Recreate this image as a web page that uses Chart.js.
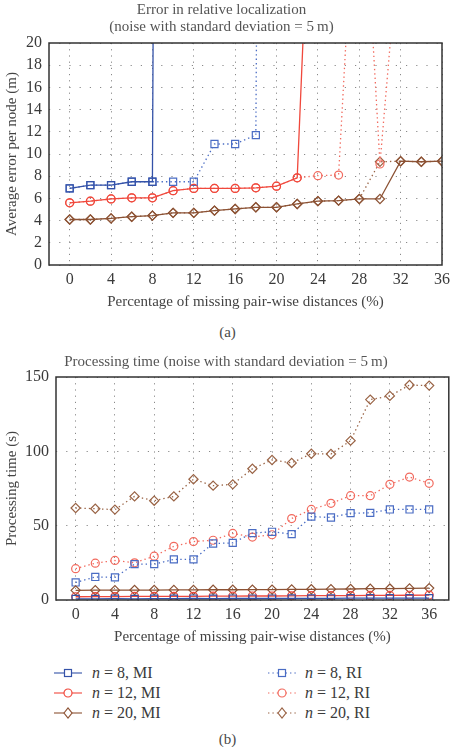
<!DOCTYPE html>
<html>
<head>
<meta charset="utf-8">
<script src="https://cdn.jsdelivr.net/npm/chart.js@4"></script>
<style>
  body { margin: 0; background: #fff; width: 455px; height: 747px; position: relative; overflow: hidden;
         font-family: "Liberation Serif", "DejaVu Serif", serif; color: #3a3a3a; }
  .box { position: absolute; left: 0; width: 455px; }
  .cap { position: absolute; left: 0; width: 455px; text-align: center; font-size: 15px; color: #4a4a4a; }
  #legend { position: absolute; left: 0; top: 663px; width: 455px; height: 64px; font-size: 16px; color: #3a3a3a; }
  .item { position: absolute; height: 20px; line-height: 20px; white-space: nowrap; }
  .item svg { position: absolute; left: 0; top: 4px; }
  .item span { position: absolute; }
</style>
</head>
<body>
<div class="box" style="top:0;height:315px"><canvas id="errChart"></canvas></div>
<div class="cap" style="top:324px">(a)</div>
<div class="box" style="top:340px;height:310px"><canvas id="timeChart"></canvas></div>
<div id="legend"></div>
<div class="cap" style="top:731px">(b)</div>
<script>
// x values: percentage of missing pair-wise distances
const missingPct = [0, 2, 4, 6, 8, 10, 12, 14, 16, 18, 20, 22, 24, 26, 28, 30, 32, 34, 36];
const xTickLabels = [0, 4, 8, 12, 16, 20, 24, 28, 32, 36];

const seriesLabels = ["n = 8, MI", "n = 12, MI", "n = 20, MI", "n = 8, RI", "n = 12, RI", "n = 20, RI"];

// (a) average error per node (m); big values run off the top of the plot
const err8MI  = [6.9, 7.2, 7.2, 7.5, 7.5, 400, null, null, null, null, null, null, null, null, null, null, null, null, null];
const err12MI = [5.6, 5.75, 5.95, 6.05, 6.05, 6.7, 6.9, 6.9, 6.9, 6.95, 7.1, 7.85, 52, null, null, null, null, null, null];
const err20MI = [4.1, 4.1, 4.2, 4.35, 4.45, 4.7, 4.7, 4.9, 5.05, 5.2, 5.2, 5.5, 5.75, 5.8, 5.95, 5.95, 9.35, 9.3, 9.35];
const err8RI  = [6.9, 7.2, 7.2, 7.5, 7.5, 7.5, 7.5, 10.9, 10.9, 11.7, 300, null, null, null, null, null, null, null, null];
const err12RI = [5.6, 5.75, 5.95, 6.05, 6.05, 6.7, 6.9, 6.9, 6.9, 6.95, 7.1, 7.85, 8.05, 8.1, 42, 9.1, 31, null, null];
const err20RI = [4.1, 4.1, 4.2, 4.35, 4.45, 4.7, 4.7, 4.9, 5.05, 5.2, 5.2, 5.5, 5.75, 5.8, 5.95, 9.3, 9.35, 9.3, 9.35];
const errTicks = [0, 20];

// (b) processing time (s)
const time8MI  = [0.8, 0.8, 0.9, 0.8, 0.9, 0.9, 1.0, 0.9, 1.0, 1.0, 1.0, 1.1, 1.1, 1.1, 1.2, 1.2, 1.2, 1.3, 1.3];
const time12MI = [2.2, 2.3, 2.3, 2.4, 2.4, 2.5, 2.5, 2.6, 2.6, 2.7, 2.7, 2.8, 2.9, 2.9, 3.0, 3.1, 3.1, 3.2, 3.3];
const time20MI = [6.5, 6.6, 6.6, 6.7, 6.7, 6.8, 6.8, 6.9, 6.9, 7.0, 7.0, 7.1, 7.2, 7.3, 7.4, 7.6, 7.7, 7.8, 8.0];
const time8RI  = [11.8, 15.5, 15.2, 24.1, 24.1, 27.3, 27.3, 38, 38.4, 45, 45.9, 44.3, 56.1, 55.5, 58.4, 58.6, 60.9, 60.9, 60.9];
const time12RI = [21.1, 24.8, 26.6, 25, 29.5, 36.1, 39.3, 40.2, 44.8, 42.3, 43.9, 54.8, 60.9, 65, 70.2, 70.2, 77.8, 82.7, 78.5];
const time20RI = [61.9, 61.4, 60.8, 69.7, 66.8, 69.7, 81.2, 76.9, 77.8, 88.3, 94.2, 92.2, 98.4, 98.2, 107.2, 134.8, 137.3, 144.6, 144.2];
const timeTicks = [0, 150];

const colors = { blue: "#3452a8", red: "#f0483c", brown: "#8c5234" };
const riColors = { blue: "#4a6cc4", red: "#f26a5e", brown: "#9a6446" };
const styleOf = [
  { c: colors.blue, shape: "rect", r: 5, dotted: false },
  { c: colors.red, shape: "circle", r: 4, dotted: false },
  { c: colors.brown, shape: "rectRot", r: 4.6, dotted: false },
  { c: riColors.blue, shape: "rect", r: 5, dotted: true },
  { c: riColors.red, shape: "circle", r: 4, dotted: true },
  { c: riColors.brown, shape: "rectRot", r: 4.6, dotted: true },
];

const font = "'Liberation Serif', 'DejaVu Serif', serif";
Chart.defaults.font.family = font;
Chart.defaults.color = "#3a3a3a";

function series(idx, ys) {
  const s = styleOf[idx];
  return {
    label: seriesLabels[idx],
    data: ys.map((y, i) => ({ x: missingPct[i], y: y })),
    borderColor: s.c,
    backgroundColor: "rgba(0,0,0,0)",
    pointBorderColor: s.c,
    pointBackgroundColor: "rgba(0,0,0,0)",
    borderWidth: 1.3,
    borderDash: s.dotted ? [1.4, 3] : [],
    pointStyle: s.shape,
    pointRadius: s.r,
    pointBorderWidth: 1.2,
    tension: 0,
    spanGaps: false,
  };
}

// frame round the plot area, matlab style
const boxPlugin = {
  id: "box",
  afterDatasetsDraw(chart) {
    const a = chart.chartArea, ctx = chart.ctx;
    ctx.save();
    ctx.setLineDash([]);
    ctx.strokeStyle = "#333";
    ctx.lineWidth = 1.5;
    ctx.strokeRect(a.left, a.top, a.right - a.left, a.bottom - a.top);
    ctx.restore();
  },
};

function makeOptions(cfg) {
  return {
    responsive: true,
    maintainAspectRatio: false,
    animation: false,
    layout: { padding: { left: 0, right: cfg.padRight, top: 0, bottom: 0 } },
    plugins: {
      legend: { display: false },
      tooltip: { enabled: false },
      title: {
        display: true,
        text: cfg.title,
        color: "#555",
        font: { size: 15, weight: "normal", family: font, lineHeight: 1.15 },
        padding: cfg.titlePad,
      },
    },
    scales: {
      x: {
        type: "linear",
        min: -2,
        max: cfg.xMax,
        afterBuildTicks: (axis) => { axis.ticks = xTickLabels.map(v => ({ value: v })); },
        afterFit: (scale) => { scale.height = 50; },
        ticks: { font: { size: 16 }, color: "#3a3a3a", padding: 5, maxRotation: 0, autoSkip: false },
        grid: { color: "#8a8a8a", lineWidth: 1, drawTicks: false },
        border: { display: false, dash: [1.2, 5] },
        title: {
          display: true,
          text: "Percentage of missing pair-wise distances (%)",
          color: "#444",
          font: { size: 15, family: font },
          padding: { top: 4, bottom: 4 },
        },
      },
      y: {
        min: cfg.yTicks[0],
        max: cfg.yTicks[1],
        afterFit: (scale) => { scale.width = cfg.yWidth; },
        ticks: { stepSize: cfg.yStep, font: { size: 16 }, color: "#3a3a3a", padding: 7 },
        grid: { color: "#8a8a8a", lineWidth: 1, drawTicks: false },
        border: { display: false, dash: [1.2, 9] },
        title: {
          display: true,
          text: cfg.yTitle,
          color: "#444",
          font: { size: 15, family: font },
          padding: { top: 3, bottom: 0 },
        },
      },
    },
  };
}

new Chart(document.getElementById("errChart"), {
  type: "line",
  data: {
    datasets: [
      series(0, err8MI), series(1, err12MI), series(2, err20MI),
      series(3, err8RI), series(4, err12RI), series(5, err20RI),
    ],
  },
  options: makeOptions({
    title: ["Error in relative localization", "(noise with standard deviation = 5\u2009m)"],
    titlePad: { top: 1.4, bottom: 7.1 },
    padRight: 12,
    xMax: 36,
    yTicks: errTicks,
    yStep: 2,
    yWidth: 49,
    yTitle: "Average error per node (m)",
  }),
  plugins: [boxPlugin],
});

const timeChart = new Chart(document.getElementById("timeChart"), {
  type: "line",
  data: {
    datasets: [
      series(0, time8MI), series(1, time12MI), series(2, time20MI),
      series(3, time8RI), series(4, time12RI), series(5, time20RI),
    ],
  },
  options: makeOptions({
    title: "Processing time (noise with standard deviation = 5\u2009m)",
    titlePad: { top: 13.4, bottom: 6.35 },
    padRight: 3,
    xMax: 38,
    yTicks: timeTicks,
    yStep: 50,
    yWidth: 56,
    yTitle: "Processing time (s)",
  }),
  plugins: [boxPlugin],
});

// legend, built from the processing time datasets
function legendSymbol(s) {
  const cx = 14, cy = 6, c = s.c;
  const dash = s.dotted ? ' stroke-dasharray="1.4 3"' : "";
  let mark;
  if (s.shape === "rect") mark = `<rect x="${cx - 3.5}" y="${cy - 3.5}" width="7" height="7" fill="#fff" stroke="${c}" stroke-width="1.2"/>`;
  else if (s.shape === "circle") mark = `<circle cx="${cx}" cy="${cy}" r="4" fill="#fff" stroke="${c}" stroke-width="1.2"/>`;
  else mark = `<path d="M${cx - 4} ${cy} L${cx} ${cy - 5} L${cx + 4} ${cy} L${cx} ${cy + 5} Z" fill="#fff" stroke="${c}" stroke-width="1.2"/>`;
  return `<svg width="28" height="12"><line x1="0" y1="${cy}" x2="28" y2="${cy}" stroke="${c}" stroke-width="1.1"${dash}/>${mark}</svg>`;
}

const legendEl = document.getElementById("legend");
timeChart.data.datasets.forEach((ds, i) => {
  const col = i < 3 ? 0 : 1;
  const row = i % 3;
  const parts = ds.label.split(" ");
  const text = `<i>${parts[0]}</i> ${parts.slice(1).join(" ")}`;
  const div = document.createElement("div");
  div.className = "item";
  div.style.left = (col ? 268 : 54) + "px";
  div.style.top = (row * 20.2) + "px";
  div.innerHTML = legendSymbol(styleOf[i]) + `<span style="left:${col ? 37 : 38}px">${text}</span>`;
  legendEl.appendChild(div);
});
</script>
</body>
</html>
